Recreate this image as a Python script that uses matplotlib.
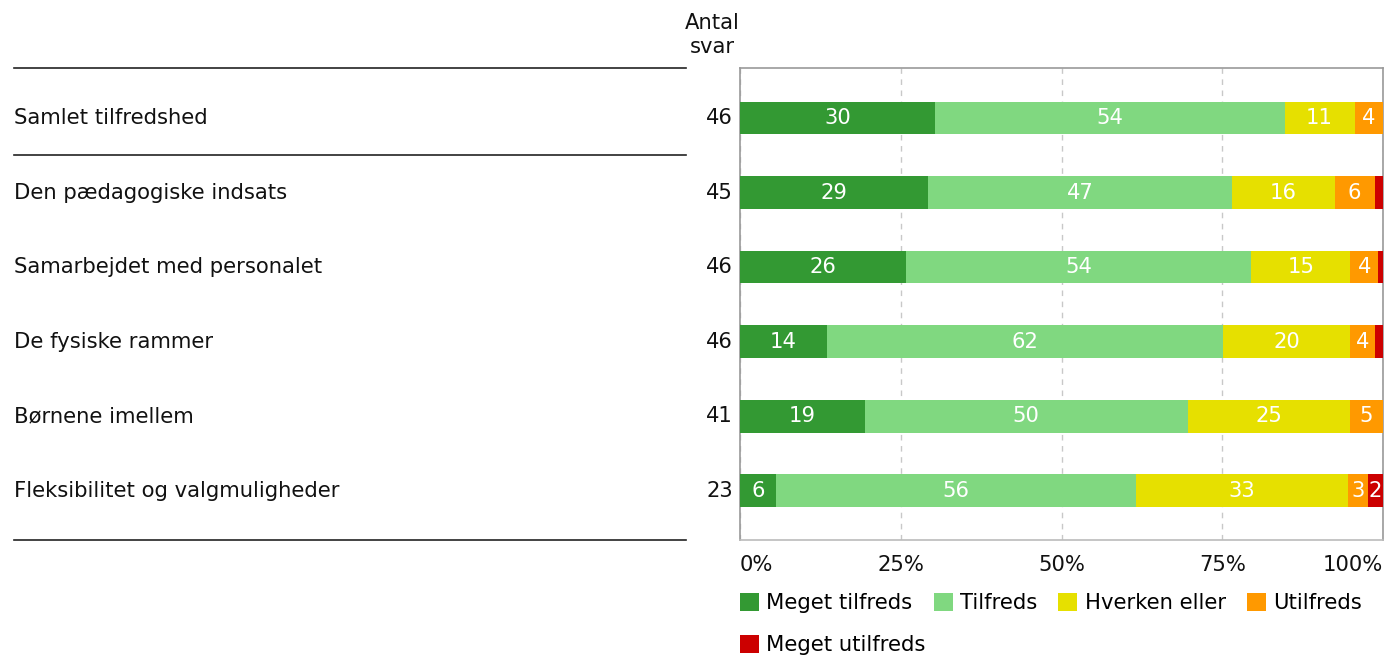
import matplotlib
matplotlib.use("Agg")
import matplotlib.pyplot as plt
import matplotlib.transforms as mtransforms
from matplotlib.patches import Patch
import numpy as np

# data (percent of answers)
categories = ["Samlet tilfredshed", "Den pædagogiske indsats", "Samarbejdet med personalet",
              "De fysiske rammer", "Børnene imellem", "Fleksibilitet og valgmuligheder"]
antal_svar = [46, 45, 46, 46, 41, 23]
series_names = ["Meget tilfreds", "Tilfreds", "Hverken eller", "Utilfreds", "Meget utilfreds"]
meget_tilfreds = [30.4, 29.2, 25.8, 13.5, 19.4, 5.6]
tilfreds = [54.3, 47.3, 53.7, 61.6, 50.2, 56.0]
hverken_eller = [10.9, 16.0, 15.4, 19.8, 25.3, 33.0]
utilfreds = [4.4, 6.2, 4.4, 3.9, 5.1, 3.1]
meget_utilfreds = [0.0, 1.3, 0.7, 1.2, 0.0, 2.3]
x_ticks = [0, 25, 50, 75, 100]
x_ticklabels = ["0%", "25%", "50%", "75%", "100%"]

colors = ["#339933", "#80d880", "#e6e000", "#ff9900", "#cc0000"]
FS = 15.2
plt.rcParams["font.family"] = ["DejaVu Sans"]

W, H = 1384, 658
fig = plt.figure(figsize=(W / 100, H / 100), dpi=100)
ax = fig.add_axes([740 / W, (H - 540) / H, 643 / W, 472 / H])

series = [meget_tilfreds, tilfreds, hverken_eller, utilfreds, meget_utilfreds]
y = np.arange(len(categories))
left = np.zeros(len(categories))
for name, vals, col in zip(series_names, series, colors):
    vals = np.array(vals)
    ax.barh(y, vals, left=left, height=0.44, color=col, label=name, zorder=3)
    for yi, l, v in zip(y, left, vals):
        if round(v) >= 2:
            ax.text(l + v / 2, yi, f"{round(v)}", ha="center", va="center",
                    color="white", fontsize=FS, zorder=4)
    left += vals

ax.set_xlim(0, 100)
ax.set_ylim(5.66, -0.67)
ax.set_xticks(x_ticks)
ax.set_xticklabels(x_ticklabels, fontsize=FS)
ax.tick_params(axis="x", length=0, pad=11, colors="#111111")
ax.set_yticks([])
ax.xaxis.grid(True, linestyle=(0, (4, 4)), color="#c8c8c8", linewidth=1, zorder=0)
for s in ax.spines.values():
    s.set_color("#999999")
    s.set_linewidth(1.2)
ax.spines["bottom"].set_color("#bbbbbb")
ax.get_xticklabels()[0].set_horizontalalignment("left")
ax.get_xticklabels()[-1].set_horizontalalignment("right")

# left side: category names, counts and separator lines
blend = mtransforms.blended_transform_factory(fig.transFigure, ax.transData)
for yi, cat, n in zip(y, categories, antal_svar):
    ax.text(14 / W, yi, cat, transform=blend, ha="left", va="center",
            fontsize=FS, color="#111111", clip_on=False)
    ax.text(733 / W, yi, str(n), transform=blend, ha="right", va="center",
            fontsize=FS, color="#111111", clip_on=False)
for ly in [-0.67, 0.5, 5.66]:
    ax.plot([14 / W, 686 / W], [ly, ly], transform=blend, color="#222222",
            linewidth=1.2, clip_on=False)
fig.text(712 / W, 1 - 35 / H, "Antal\nsvar", ha="center", va="center",
         fontsize=FS, color="#111111", linespacing=1.2)

# legend: four entries on the first row, the last on a second row
handles = [Patch(facecolor=c, label=n) for c, n in zip(colors, series_names)]
leg_kw = dict(frameon=False, fontsize=FS, handlelength=0.9, handleheight=0.9,
              handletextpad=0.35, borderpad=0, borderaxespad=0, loc="center left")
fig.legend(handles=handles[:4], ncol=4, columnspacing=1.0,
           bbox_to_anchor=(740 / W, 1 - 603 / H), **leg_kw)
fig.legend(handles=handles[4:], ncol=1, bbox_to_anchor=(740 / W, 1 - 645 / H), **leg_kw)

fig.savefig("out.png", dpi=100)
